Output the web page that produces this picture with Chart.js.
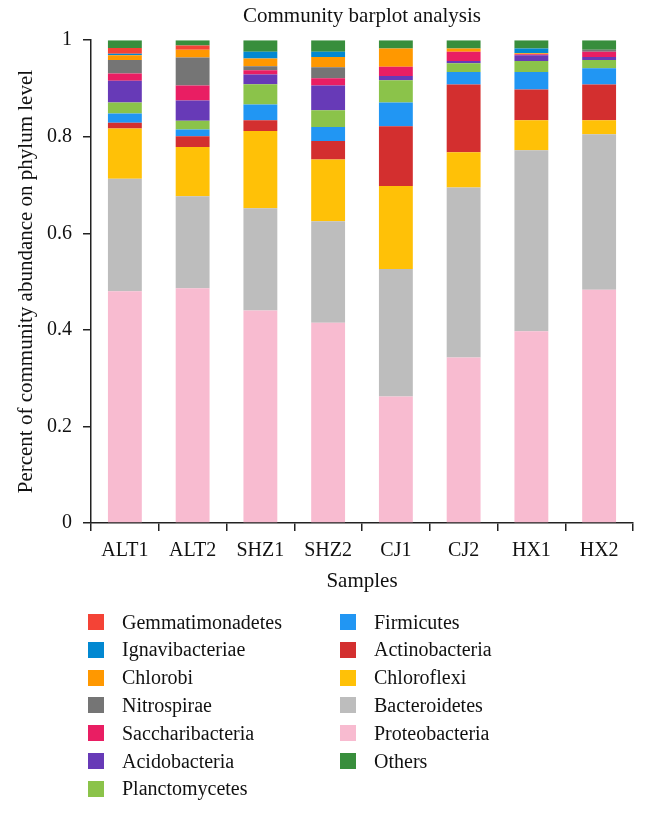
<!DOCTYPE html>
<html lang="en">

<head>
    <meta charset="UTF-8">
    <title>Community barplot analysis</title>
    <style>
        body { margin: 0; background: #fff; }
        #wrap { position: relative; width: 648px; height: 814px; }
        #myChart { position: absolute; left: 0; top: 0; }
        #legend { position: absolute; left: 0; top: 0; width: 648px; height: 814px;
            font-family: "Liberation Serif", "DejaVu Serif", serif; font-size: 20px; color: #111; }
        .item { position: absolute; display: flex; align-items: center; height: 28px; white-space: nowrap; }
        .box { width: 16px; height: 16px; margin-right: 18px; }
    </style>
</head>

<body>
    <div id="wrap">
        <canvas id="myChart" width="648" height="610"></canvas>
        <div id="legend"></div>
    </div>

    <script src="https://cdn.jsdelivr.net/npm/chart.js"></script>

    <script>
        // samples
        const v_samples = ["ALT1", "ALT2", "SHZ1", "SHZ2", "CJ1", "CJ2", "HX1", "HX2"];

        // relative abundance per phylum (bottom of the stack first)
        const proteobacteria   = [0.480, 0.486, 0.440, 0.415, 0.262, 0.343, 0.397, 0.483];
        const bacteroidetes    = [0.233, 0.191, 0.212, 0.210, 0.264, 0.352, 0.375, 0.322];
        const chloroflexi      = [0.104, 0.102, 0.160, 0.128, 0.172, 0.073, 0.062, 0.029];
        const actinobacteria   = [0.012, 0.022, 0.022, 0.038, 0.124, 0.140, 0.064, 0.074];
        const firmicutes       = [0.019, 0.014, 0.033, 0.029, 0.049, 0.026, 0.036, 0.034];
        const planctomycetes   = [0.023, 0.018, 0.042, 0.035, 0.046, 0.018, 0.023, 0.017];
        const acidobacteria    = [0.045, 0.042, 0.020, 0.051, 0.009, 0.005, 0.012, 0.006];
        const saccharibacteria = [0.015, 0.031, 0.009, 0.015, 0.019, 0.019, 0.002, 0.011];
        const nitrospirae      = [0.028, 0.058, 0.008, 0.023, 0.000, 0.000, 0.000, 0.004];
        const chlorobi         = [0.010, 0.016, 0.016, 0.021, 0.038, 0.007, 0.002, 0.000];
        const ignavibacteriae  = [0.003, 0.000, 0.014, 0.011, 0.000, 0.000, 0.010, 0.000];
        const gemmatimonadetes = [0.012, 0.009, 0.000, 0.000, 0.000, 0.000, 0.000, 0.000];
        const others           = [0.016, 0.011, 0.024, 0.024, 0.017, 0.017, 0.017, 0.020];

        const v_yTicks = [0, 0.2, 0.4, 0.6, 0.8, 1];
        const v_yTickLabels = ["0", "0.2", "0.4", "0.6", "0.8", "1"];

        const v_names = ["Proteobacteria", "Bacteroidetes", "Chloroflexi", "Actinobacteria", "Firmicutes",
            "Planctomycetes", "Acidobacteria", "Saccharibacteria", "Nitrospirae", "Chlorobi",
            "Ignavibacteriae", "Gemmatimonadetes", "Others"];
        const v_values = [proteobacteria, bacteroidetes, chloroflexi, actinobacteria, firmicutes,
            planctomycetes, acidobacteria, saccharibacteria, nitrospirae, chlorobi,
            ignavibacteriae, gemmatimonadetes, others];
        const v_colors = ["#F8BBD0", "#BDBDBD", "#FFC107", "#D32F2F", "#2196F3",
            "#8BC34A", "#673AB7", "#E91E63", "#757575", "#FF9800",
            "#0288D1", "#F44336", "#388E3C"];

        // legend is read column by column
        const v_legendLeft = ["Gemmatimonadetes", "Ignavibacteriae", "Chlorobi", "Nitrospirae",
            "Saccharibacteria", "Acidobacteria", "Planctomycetes"];
        const v_legendRight = ["Firmicutes", "Actinobacteria", "Chloroflexi", "Bacteroidetes",
            "Proteobacteria", "Others"];

        const v_font = "'Liberation Serif', 'DejaVu Serif', serif";
        const v_ink = "#111";

        let v_datasets = [];
        for (let i = 0; i < v_names.length; i++) {
            v_datasets.push({
                label: v_names[i],
                data: v_values[i],
                backgroundColor: v_colors[i],
                borderWidth: 0,
                barPercentage: 0.5,
                categoryPercentage: 1.0
            });
        }

        const ctx = document.getElementById("myChart");

        let v_chart = new Chart(ctx, {
            type: 'bar',
            data: {
                labels: v_samples,
                datasets: v_datasets
            },
            options: {
                responsive: false,
                animation: false,
                layout: { padding: { left: 0, right: 15, top: 0, bottom: 16 } },
                plugins: {
                    legend: { display: false },
                    tooltip: { enabled: false },
                    title: {
                        display: true,
                        fullSize: false,
                        text: "Community barplot analysis",
                        color: v_ink,
                        font: { family: v_font, size: 21, weight: 'normal' },
                        padding: { top: 4, bottom: 11 }
                    }
                },
                scales: {
                    x: {
                        stacked: true,
                        grid: { drawOnChartArea: false, drawTicks: true, tickLength: 8, color: "#222", lineWidth: 1.5, offset: true },
                        border: { color: "#222", width: 1.5 },
                        ticks: { color: v_ink, font: { family: v_font, size: 20 }, padding: 8, maxRotation: 0 },
                        title: {
                            display: true, text: "Samples", color: v_ink,
                            font: { family: v_font, size: 21 }, padding: { top: 4, bottom: 0 }
                        },
                        afterFit: (scale) => { scale.height = 71; }
                    },
                    y: {
                        stacked: true,
                        min: 0,
                        max: 1,
                        afterBuildTicks: (scale) => { scale.ticks = v_yTicks.map(v => ({ value: v })); },
                        grid: { drawOnChartArea: false, drawTicks: true, tickLength: 8, color: "#222", lineWidth: 1.5 },
                        border: { color: "#222", width: 1.5 },
                        ticks: {
                            color: v_ink, font: { family: v_font, size: 20 }, padding: 11,
                            callback: (value, index) => v_yTickLabels[index]
                        },
                        title: {
                            display: true, text: "Percent of community abundance on phylum level", color: v_ink,
                            font: { family: v_font, size: 21 }, padding: { top: 14, bottom: 0 }
                        },
                        afterFit: (scale) => { scale.width = 91; }
                    }
                }
            }
        });

        // HTML legend, two columns
        const v_legend = document.getElementById("legend");
        function f_addItem(name, left, rowCenter) {
            let v_item = document.createElement("div");
            v_item.className = "item";
            v_item.style.left = left + "px";
            v_item.style.top = (rowCenter - 14) + "px";
            let v_box = document.createElement("span");
            v_box.className = "box";
            v_box.style.background = v_colors[v_names.indexOf(name)];
            let v_text = document.createElement("span");
            v_text.textContent = name;
            v_item.appendChild(v_box);
            v_item.appendChild(v_text);
            v_legend.appendChild(v_item);
        }
        for (let i = 0; i < v_legendLeft.length; i++) {
            f_addItem(v_legendLeft[i], 88, 622 + i * 27.8);
        }
        for (let i = 0; i < v_legendRight.length; i++) {
            f_addItem(v_legendRight[i], 340, 622 + i * 27.8);
        }
    </script>
</body>

</html>
